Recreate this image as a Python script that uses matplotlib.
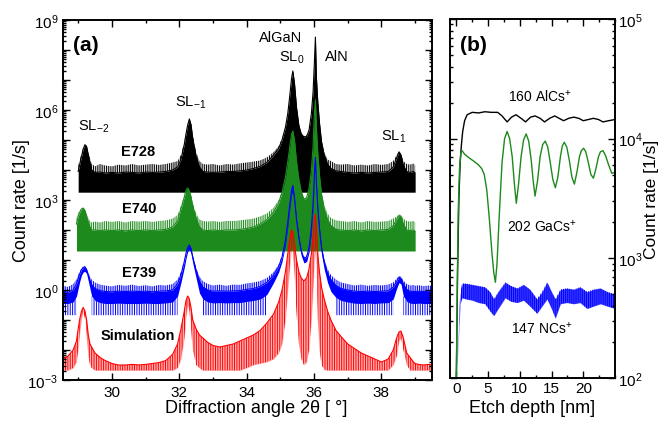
import numpy as np
import matplotlib
matplotlib.use('Agg')
import matplotlib.pyplot as plt
from matplotlib.ticker import FixedLocator, FuncFormatter, NullFormatter, LogLocator, MultipleLocator

plt.rcParams['font.family'] = ['Liberation Sans', 'DejaVu Sans']
plt.rcParams['mathtext.fontset'] = 'custom'
plt.rcParams['mathtext.rm'] = 'Liberation Sans'
plt.rcParams['mathtext.it'] = 'Liberation Sans:italic'
plt.rcParams['mathtext.bf'] = 'Liberation Sans:bold'
plt.rcParams['hatch.linewidth'] = 0.7

nan = np.nan

# ---------------- panel (a): XRD, values are log10(count rate) ----------------
two_theta = [28.55, 28.7, 28.85, 28.95, 29.0, 29.05, 29.1, 29.15, 29.2, 29.25,
             29.3, 29.35, 29.4, 29.5, 29.65, 29.8, 30.0, 30.2, 30.4, 30.6,
             30.8, 31.0, 31.2, 31.4, 31.6, 31.8, 31.95, 32.05, 32.15, 32.2,
             32.25, 32.3, 32.35, 32.4, 32.5, 32.6, 32.7, 32.85, 33.0, 33.2,
             33.4, 33.6, 33.8, 34.0, 34.2, 34.4, 34.6, 34.8, 34.95, 35.05,
             35.15, 35.22, 35.28, 35.33, 35.37, 35.42, 35.48, 35.55, 35.62, 35.7,
             35.78, 35.85, 35.92, 35.97, 36.01, 36.04, 36.07, 36.11, 36.16, 36.22,
             36.3, 36.4, 36.5, 36.65, 36.8, 37.0, 37.2, 37.4, 37.6, 37.8,
             38.0, 38.2, 38.35, 38.45, 38.52, 38.58, 38.65, 38.75, 38.85, 38.95,
             39.0, 39.1, 39.25, 39.4, 39.5]

# E728 (black)
e728_floor = 3.26
e728_top = [nan, nan, nan, nan, 4.15, 4.35, 4.55, 4.75, 4.86, 4.82,
            4.6, 4.4, 4.2, 4.12, 4.2, 4.15, 4.12, 4.18, 4.15, 4.2,
            4.15, 4.18, 4.2, 4.17, 4.2, 4.25, 4.3, 4.5, 4.95, 5.25,
            5.55, 5.72, 5.55, 5.15, 4.6, 4.3, 4.2, 4.18, 4.2, 4.15,
            4.2, 4.18, 4.22, 4.25, 4.28, 4.32, 4.42, 4.6, 4.8, 5.05,
            5.45, 5.9, 6.5, 7.05, 7.32, 6.9, 6.1, 5.5, 5.22, 5.13,
            5.15, 5.35, 5.9, 6.6, 7.6, 8.45, 7.1, 6.3, 5.6, 5.0,
            4.6, 4.35, 4.3, 4.2, 4.18, 4.2, 4.15, 4.18, 4.15, 4.2,
            4.17, 4.2, 4.3, 4.5, 4.63, 4.55, 4.3, 4.2, 4.18, 4.22,
            4.15, nan, nan, nan, nan]
e728_body = [nan, nan, nan, nan, 3.95, 4.2, 4.45, 4.7, 4.84, 4.78,
             4.5, 4.25, 4.0, 3.92, 3.93, 3.9, 3.92, 3.9, 3.93, 3.92,
             3.9, 3.93, 3.92, 3.93, 3.95, 4.0, 4.1, 4.35, 4.85, 5.2,
             5.5, 5.7, 5.5, 5.05, 4.45, 4.1, 3.95, 3.93, 3.92, 3.93,
             3.95, 3.95, 3.97, 4.0, 4.05, 4.12, 4.25, 4.5, 4.72, 5.0,
             5.42, 5.88, 6.48, 7.03, 7.3, 6.88, 6.08, 5.48, 5.2, 5.1,
             5.12, 5.32, 5.88, 6.58, 7.58, 8.43, 7.08, 6.28, 5.58, 4.95,
             4.5, 4.2, 4.05, 3.97, 3.95, 3.92, 3.9, 3.92, 3.9, 3.92,
             3.93, 3.95, 4.1, 4.4, 4.6, 4.5, 4.15, 3.95, 3.92, 3.95,
             3.9, nan, nan, nan, nan]

# E740 (green)
e740_floor = 1.3
e740_top = [nan, nan, nan, 2.4, 2.55, 2.65, 2.72, 2.75, 2.68, 2.55,
            2.4, 2.3, 2.25, 2.28, 2.25, 2.3, 2.27, 2.3, 2.25, 2.3,
            2.28, 2.3, 2.27, 2.3, 2.32, 2.38, 2.5, 2.8, 3.15, 3.35,
            3.43, 3.35, 3.15, 2.9, 2.55, 2.35, 2.3, 2.28, 2.3, 2.27,
            2.3, 2.3, 2.32, 2.35, 2.38, 2.45, 2.55, 2.75, 3.0, 3.3,
            3.8, 4.3, 4.8, 5.2, 5.33, 5.0, 4.3, 3.7, 3.3, 3.05,
            3.1, 3.4, 4.0, 4.8, 5.9, 6.36, 5.4, 4.6, 3.9, 3.3,
            2.85, 2.55, 2.4, 2.32, 2.3, 2.27, 2.3, 2.25, 2.3, 2.27,
            2.28, 2.3, 2.38, 2.45, 2.52, 2.5, 2.38, 2.3, 2.28, 2.3,
            2.25, nan, nan, nan, nan]
e740_body = [nan, nan, nan, 2.2, 2.45, 2.6, 2.7, 2.73, 2.65, 2.45,
             2.25, 2.1, 2.0, 2.0, 1.98, 2.0, 1.98, 2.0, 1.97, 2.0,
             1.98, 2.0, 1.98, 2.0, 2.02, 2.1, 2.3, 2.7, 3.1, 3.32,
             3.4, 3.3, 3.1, 2.8, 2.4, 2.1, 2.0, 1.98, 2.0, 1.98,
             2.0, 2.0, 2.02, 2.05, 2.1, 2.2, 2.35, 2.6, 2.9, 3.25,
             3.75, 4.28, 4.78, 5.18, 5.3, 4.98, 4.28, 3.68, 3.28, 3.02,
             3.08, 3.38, 3.98, 4.78, 5.88, 6.34, 5.38, 4.58, 3.85, 3.2,
             2.7, 2.35, 2.15, 2.02, 2.0, 1.98, 2.0, 1.97, 2.0, 1.98,
             2.0, 2.02, 2.15, 2.35, 2.48, 2.45, 2.2, 2.0, 1.98, 2.0,
             1.95, nan, nan, nan, nan]

# E739 (blue)
e739_floor = -0.84
e739_top = [0.15, 0.1, 0.2, 0.35, 0.5, 0.62, 0.72, 0.78, 0.8, 0.72,
            0.58, 0.45, 0.35, 0.25, 0.18, 0.15, 0.12, 0.17, 0.14, 0.18,
            0.13, 0.16, 0.12, 0.17, 0.15, 0.2, 0.35, 0.6, 1.0, 1.25,
            1.45, 1.52, 1.4, 1.15, 0.75, 0.45, 0.3, 0.2, 0.15, 0.18,
            0.14, 0.18, 0.17, 0.22, 0.25, 0.3, 0.4, 0.6, 0.85, 1.15,
            1.7, 2.3, 2.9, 3.35, 3.52, 3.1, 2.4, 1.8, 1.35, 1.1,
            1.15, 1.45, 2.1, 2.9, 3.9, 4.46, 3.6, 2.8, 2.1, 1.5,
            1.05, 0.7, 0.5, 0.35, 0.25, 0.2, 0.15, 0.18, 0.14, 0.17,
            0.15, 0.18, 0.25, 0.38, 0.47, 0.45, 0.32, 0.2, 0.15, 0.17,
            0.14, 0.16, 0.13, 0.15, 0.14]
e739_body = [-0.05, -0.08, 0.0, 0.2, 0.38, 0.55, 0.68, 0.75, 0.77, 0.68,
             0.5, 0.32, 0.18, 0.05, -0.02, -0.05, -0.06, -0.04, -0.05, -0.04,
             -0.05, -0.04, -0.06, -0.04, -0.03, 0.0, 0.2, 0.5, 0.95, 1.22,
             1.42, 1.5, 1.37, 1.1, 0.65, 0.3, 0.1, 0.0, -0.04, -0.03,
             -0.04, -0.03, -0.02, 0.02, 0.05, 0.12, 0.25, 0.5, 0.78, 1.1,
             1.65, 2.25, 2.85, 3.3, 3.48, 3.05, 2.35, 1.75, 1.3, 1.05,
             1.1, 1.4, 2.05, 2.85, 3.85, 4.42, 3.55, 2.75, 2.05, 1.42,
             0.95, 0.55, 0.35, 0.15, 0.05, 0.0, -0.04, -0.05, -0.04, -0.05,
             -0.04, -0.03, 0.1, 0.28, 0.42, 0.38, 0.2, 0.02, -0.04, -0.05,
             -0.05, -0.04, -0.05, -0.04, -0.05]
e739_bottom = [-0.45, -0.45, -0.4, -0.2, 0.05, 0.3, 0.5, 0.6, 0.62, 0.55,
               0.3, 0.05, -0.2, -0.35, -0.42, -0.45, -0.45, -0.44, -0.45, -0.45,
               -0.45, -0.44, -0.45, -0.45, -0.43, -0.4, -0.2, 0.25, 0.75, 1.05,
               1.28, 1.36, 1.22, 0.9, 0.4, -0.1, -0.3, -0.4, -0.43, -0.42,
               -0.43, -0.42, -0.42, -0.38, -0.35, -0.3, -0.15, 0.25, 0.6, 0.95,
               1.5, 2.1, 2.7, 3.15, 3.33, 2.9, 2.2, 1.6, 1.15, 0.9,
               0.95, 1.25, 1.9, 2.7, 3.7, 4.28, 3.4, 2.6, 1.9, 1.2,
               0.7, 0.25, -0.05, -0.25, -0.35, -0.4, -0.44, -0.45, -0.44, -0.45,
               -0.43, -0.42, -0.3, 0.05, 0.25, 0.2, -0.2, -0.38, -0.44, -0.45,
               -0.45, -0.44, -0.45, -0.45, -0.45]

# Simulation (red): fringe-top and fringe-bottom envelopes
sim_top = [-2.3, -2.2, -2.0, -1.7, -1.3, -0.95, -0.7, -0.58, -0.7, -1.0,
           -1.5, -1.8, -1.9, -2.1, -2.25, -2.35, -2.45, -2.5, -2.5, -2.48,
           -2.5, -2.48, -2.45, -2.42, -2.35, -2.15, -1.8, -1.3, -0.7, -0.35,
           -0.2, -0.3, -0.6, -1.0, -1.3, -1.5, -1.6, -1.75, -1.85, -1.9,
           -1.85, -1.8, -1.7, -1.6, -1.5, -1.35, -1.1, -0.8, -0.4, 0.0,
           0.6, 1.2, 1.7, 2.0, 1.95, 1.5, 1.0, 0.6, 0.4, 0.3,
           0.4, 0.7, 1.2, 1.8, 2.4, 2.52, 2.0, 1.2, 0.6, 0.1,
           -0.3, -0.7, -1.0, -1.35, -1.55, -1.8, -1.95, -2.1, -2.2, -2.3,
           -2.4, -2.3, -2.0, -1.6, -1.4, -1.37, -1.6, -2.1, -2.25, -2.4,
           -2.45, -2.48, -2.5, -2.48, -2.5]
sim_bottom = [-2.68, -2.68, -2.6, -2.4, -2.0, -1.4, -0.95, -0.7, -0.95, -1.5,
              -2.2, -2.5, -2.6, -2.68, -2.68, -2.68, -2.68, -2.68, -2.68, -2.68,
              -2.68, -2.68, -2.68, -2.68, -2.68, -2.68, -2.6, -2.3, -1.6, -0.9,
              -0.5, -0.7, -1.3, -2.0, -2.5, -2.6, -2.68, -2.68, -2.68, -2.68,
              -2.68, -2.68, -2.68, -2.6, -2.5, -2.45, -2.4, -2.3, -2.1, -1.8,
              -1.0, 0.0, 0.8, 1.4, 1.3, 0.5, -0.8, -1.8, -2.3, -2.5,
              -2.4, -2.0, -1.0, 0.0, 1.0, 1.5, 0.5, -1.0, -2.0, -2.5,
              -2.65, -2.68, -2.68, -2.68, -2.68, -2.68, -2.68, -2.68, -2.68, -2.68,
              -2.68, -2.68, -2.5, -2.2, -1.7, -1.6, -2.0, -2.5, -2.68, -2.68,
              -2.68, -2.68, -2.68, -2.68, -2.68]

a_xticks = [30, 32, 34, 36, 38]
a_ytick_exp = [-3, 0, 3, 6, 9]

# ---------------- panel (b): SIMS depth profiles, log10(count rate) ----------------
alcs_depth = [0.0, 0.2, 0.4, 0.6, 0.8, 1.0, 1.3, 1.7, 2.5, 3.5, 4.5, 5.5, 6.5, 7.2, 8.0,
              8.7, 9.4, 10.2, 10.9, 11.7, 12.4, 13.2, 13.9, 14.7, 15.5, 16.2, 16.9,
              17.7, 18.5, 19.3, 20.0, 20.8, 21.6, 22.4, 23.1, 24.0, 25.0]
alcs_rate = [2.0, 2.9, 3.5, 3.8, 3.95, 4.06, 4.15, 4.2, 4.22, 4.215, 4.225, 4.22, 4.22, 4.19, 4.14,
             4.18, 4.2, 4.17, 4.14, 4.18, 4.19, 4.17, 4.14, 4.17, 4.19, 4.17, 4.15,
             4.17, 4.18, 4.17, 4.15, 4.16, 4.17, 4.16, 4.14, 4.15, 4.16]

gacs_depth = [0.0, 0.15, 0.3, 0.5, 0.7, 0.9, 1.3, 2.0, 2.8, 3.5, 4.0, 4.4, 4.8, 5.2, 5.6,
              5.9, 6.15, 6.4, 6.8, 7.2, 7.6, 8.0, 8.4, 8.8, 9.15, 9.45, 9.8, 10.2, 10.6,
              11.0, 11.4, 11.8, 12.1, 12.4, 12.8, 13.2, 13.6, 14.0, 14.4, 14.8, 15.2,
              15.6, 16.0, 16.4, 16.7, 17.0, 17.4, 17.8, 18.2, 18.6, 19.0, 19.4, 19.7,
              20.05, 20.4, 20.8, 21.2, 21.6, 22.0, 22.4, 22.7, 23.1, 23.5, 24.0, 24.5,
              25.0]
gacs_rate = [2.0, 2.8, 3.4, 3.75, 3.88, 3.9, 3.87, 3.84, 3.81, 3.78, 3.75, 3.7, 3.57, 3.33, 3.05,
             2.88, 2.8, 2.95, 3.4, 3.8, 4.0, 4.06, 4.0, 3.85, 3.62, 3.46, 3.62, 3.85, 3.99,
             4.04, 3.98, 3.82, 3.65, 3.52, 3.65, 3.85, 3.95, 3.98, 3.93, 3.8, 3.66,
             3.59, 3.68, 3.85, 3.94, 3.97, 3.93, 3.82, 3.68, 3.62, 3.72, 3.85, 3.9,
             3.92, 3.89, 3.8, 3.7, 3.67, 3.75, 3.85, 3.89, 3.9, 3.86, 3.78, 3.71,
             3.72]

ncs_depth = [0.0, 0.3, 0.6, 0.9, 1.5, 2.5, 3.5, 4.5, 5.3, 5.9, 6.6, 7.7, 8.6, 9.6, 10.6,
             11.6, 12.7, 13.5, 14.3, 15.0, 15.6, 16.4, 17.4, 18.5, 19.5, 20.6, 21.6,
             22.7, 23.8, 25.0]
ncs_top = [2.0, 2.35, 2.7, 2.79, 2.79, 2.78, 2.77, 2.76, 2.72, 2.66, 2.72, 2.8, 2.77, 2.75, 2.78,
           2.74, 2.66, 2.72, 2.8, 2.72, 2.66, 2.74, 2.75, 2.74, 2.76, 2.72, 2.74,
           2.75, 2.72, 2.70]
ncs_bottom = [2.0, 2.3, 2.62, 2.67, 2.66, 2.65, 2.63, 2.62, 2.56, 2.52, 2.58, 2.67, 2.64, 2.63, 2.65,
              2.6, 2.54, 2.6, 2.66, 2.58, 2.5, 2.62, 2.63, 2.62, 2.63, 2.58, 2.6,
              2.62, 2.6, 2.58]

b_xticks = [0, 5, 10, 15, 20]
b_ytick_exp = [2, 3, 4, 5]

BLACK, GREEN, BLUE, RED = '#000000', '#1c8a1c', '#0000ff', '#ff0000'
HATCH = '|' * 9


def lg(v):
    return 10.0 ** np.asarray(v, dtype=float)


fig = plt.figure(figsize=(6.64, 4.27), dpi=100)
axa = fig.add_axes([63 / 664, 46 / 427, 369 / 664, 360 / 427])
axb = fig.add_axes([450 / 664, 48 / 427, 165 / 664, 359 / 427])

X = np.asarray(two_theta)

# experimental curves: solid body + hatched noise spikes
for top, body, floor, col in [(e728_top, e728_body, e728_floor, BLACK),
                              (e740_top, e740_body, e740_floor, GREEN)]:
    axa.fill_between(X, lg(floor), lg(body), color=col, lw=0)
    axa.fill_between(X, lg(body), lg(top), facecolor='none', edgecolor=col, hatch=HATCH, lw=0)
    axa.plot(X, lg(body), color=col, lw=0.8)

# simulation (drawn below E739)
axa.fill_between(X, lg(sim_bottom), lg(sim_top), color=RED, alpha=0.3, lw=0)
axa.fill_between(X, lg(sim_bottom), lg(sim_top), facecolor='none', edgecolor=RED, hatch='|' * 7, lw=0)
axa.plot(X, lg(sim_top), color=RED, lw=0.8)

bot = np.asarray(e739_bottom)
axa.fill_between(X, lg(e739_bottom), lg(e739_body), color=BLUE, lw=0)
axa.fill_between(X, lg(e739_body), lg(e739_top), facecolor='none', edgecolor=BLUE, hatch=HATCH, lw=0)
axa.fill_between(X, lg(e739_floor), lg(e739_bottom), where=bot < -0.1, interpolate=True,
                 facecolor='none', edgecolor=BLUE, hatch='|' * 7, lw=0)
axa.plot(X, lg(e739_body), color=BLUE, lw=0.8)

axa.set_xlim(28.55, 39.5)
axa.set_yscale('log')
axa.set_ylim(1e-3, 1e9)
axa.xaxis.set_major_locator(FixedLocator(a_xticks))
axa.xaxis.set_minor_locator(MultipleLocator(1))
axa.yaxis.set_major_locator(FixedLocator([10.0 ** k for k in range(-3, 10)]))
axa.yaxis.set_major_formatter(FuncFormatter(
    lambda v, p: (r'$10^{%d}$' % round(np.log10(v))) if round(np.log10(v)) in a_ytick_exp else ''))
axa.yaxis.set_minor_locator(LogLocator(base=10, subs=np.arange(2, 10), numticks=200))
axa.yaxis.set_minor_formatter(NullFormatter())
axa.set_xlabel('Diffraction angle 2θ [ °]', fontsize=13)
axa.set_ylabel('Count rate [1/s]', fontsize=13)
axa.xaxis.set_label_coords(0.523, -0.053)
axa.yaxis.set_label_coords(-0.089, 0.5)

# annotations panel (a)
axa.text(0.062, 0.933, '(a)', transform=axa.transAxes, fontsize=15, fontweight='bold',
         ha='center', va='center')
axa.text(35.02, 10 ** 8.42, 'AlGaN', fontsize=10.5, ha='center', va='center')
axa.text(35.35, 10 ** 7.79, r'SL$_0$', fontsize=10.5, ha='center', va='center')
axa.text(36.68, 10 ** 7.79, 'AlN', fontsize=10.5, ha='center', va='center')
axa.text(32.35, 10 ** 6.29, r'SL$_{-1}$', fontsize=10.5, ha='center', va='center')
axa.text(29.47, 10 ** 5.46, r'SL$_{-2}$', fontsize=10.5, ha='center', va='center')
axa.text(38.37, 10 ** 5.13, r'SL$_1$', fontsize=10.5, ha='center', va='center')
axa.text(30.78, 10 ** 4.62, 'E728', fontsize=10.5, fontweight='bold', ha='center', va='center')
axa.text(30.80, 10 ** 2.72, 'E740', fontsize=10.5, fontweight='bold', ha='center', va='center')
axa.text(30.80, 10 ** 0.59, 'E739', fontsize=10.5, fontweight='bold', ha='center', va='center')
axa.text(30.78, 10 ** -1.51, 'Simulation', fontsize=10.5, fontweight='bold', ha='center', va='center')

# ---------------- panel (b) ----------------
axb.plot(alcs_depth, lg(alcs_rate), color=BLACK, lw=1.0)
axb.plot(gacs_depth, lg(gacs_rate), color=GREEN, lw=1.0)
axb.fill_between(ncs_depth, lg(ncs_bottom), lg(ncs_top), color=BLUE, alpha=0.75, lw=0)
axb.fill_between(ncs_depth, lg(ncs_bottom), lg(ncs_top), facecolor='none', edgecolor=BLUE,
                 hatch='|' * 8, lw=0)

axb.set_xlim(-1, 25)
axb.set_yscale('log')
axb.set_ylim(1e2, 1e5)
axb.xaxis.set_major_locator(FixedLocator(b_xticks))
axb.xaxis.set_minor_locator(MultipleLocator(2.5))
axb.yaxis.set_major_locator(FixedLocator([10.0 ** k for k in b_ytick_exp]))
axb.yaxis.set_major_formatter(FuncFormatter(lambda v, p: r'$10^{%d}$' % round(np.log10(v))))
axb.yaxis.set_minor_locator(LogLocator(base=10, subs=np.arange(2, 10), numticks=200))
axb.yaxis.set_minor_formatter(NullFormatter())
axb.yaxis.set_label_position('right')
axb.set_xlabel('Etch depth [nm]', fontsize=13)
axb.set_ylabel('Count rate [1/s]', fontsize=12.5)
axb.xaxis.set_label_coords(0.5, -0.058)
axb.yaxis.set_label_coords(1.176, 0.5)

axb.text(0.14, 0.93, '(b)', transform=axb.transAxes, fontsize=15, fontweight='bold',
         ha='center', va='center')
axb.text(13.2, 10 ** 4.36, r'160 AlCs$^{+}$', fontsize=10, ha='center', va='center')
axb.text(13.5, 10 ** 3.27, r'202 GaCs$^{+}$', fontsize=10, ha='center', va='center')
axb.text(13.5, 10 ** 2.42, r'147 NCs$^{+}$', fontsize=10, ha='center', va='center')

for ax in (axa, axb):
    for s in ax.spines.values():
        s.set_linewidth(1.4)
    ax.tick_params(which='both', direction='in', top=True, bottom=True, left=True, right=True,
                   labelsize=11, width=1.0)
    ax.tick_params(which='major', length=5)
    ax.tick_params(which='minor', length=2.5)
axb.tick_params(which='both', labelleft=False, labelright=True, pad=2)

fig.savefig('out.png', dpi=100)
